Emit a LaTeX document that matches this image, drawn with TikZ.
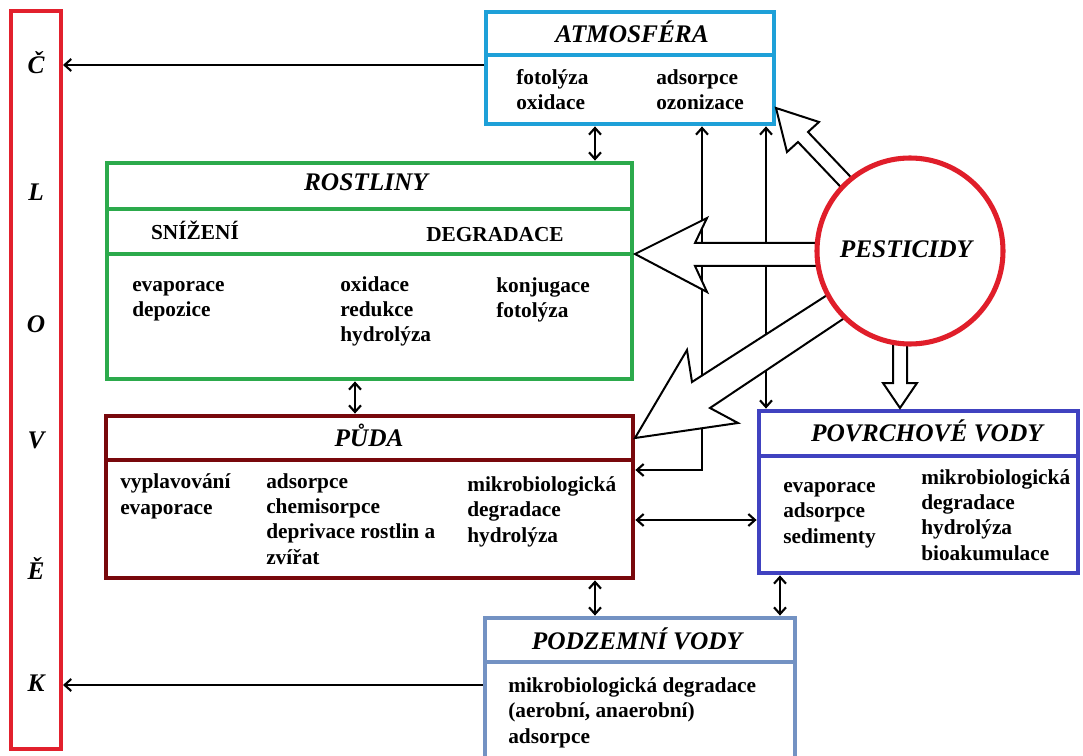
\documentclass[tikz,border=0pt]{standalone}
\usepackage{fontspec}
\setmainfont{Liberation Serif}
\usetikzlibrary{arrows.meta,fit}
\definecolor{clovekred}{RGB}{226,32,45}
\definecolor{atmblue}{RGB}{30,160,216}
\definecolor{rostgreen}{RGB}{44,170,76}
\definecolor{pudared}{RGB}{120,8,12}
\definecolor{povrblue}{RGB}{64,66,192}
\definecolor{podzblue}{RGB}{115,146,195}
\definecolor{pestred}{RGB}{224,30,42}
\tikzset{
  box/.style={draw=#1, line width=3.6pt, fill=white, inner sep=0pt},
  divider/.style={draw=#1, line width=3.4pt},
  ttl/.style={font=\fontsize{19}{22}\selectfont\bfseries\itshape, inner sep=0pt, anchor=base},
  hdr/.style={font=\fontsize{16}{19}\selectfont\bfseries, inner sep=0pt, anchor=base},
  body/.style={font=\fontsize{16}{18.8}\selectfont\bfseries, align=left, anchor=base west, inner sep=0pt},
  conn/.style={line width=1.6pt, -{Straight Barb[length=5pt,width=9pt]}},
  conn2/.style={line width=1.6pt, {Straight Barb[length=5pt,width=9pt]}-{Straight Barb[length=5pt,width=9pt]}},
  fat/.style={draw=black, line width=1.5pt, fill=white, line join=miter},
}
\begin{document}
\begin{tikzpicture}[x=0.75pt,y=-0.75pt]
\path[use as bounding box] (0,0) rectangle (1083,756);
\clip (0,0) rectangle (1083,756);
% helper coordinates
\coordinate (yC) at (0,65);
\coordinate (yK) at (0,685);
\coordinate (x595) at (595,0);
\coordinate (x355) at (355,0);
\coordinate (x702) at (702,0);
\coordinate (x766) at (766,0);
\coordinate (x780) at (780,0);
\coordinate (y470) at (0,470);
\coordinate (y520) at (0,520);
% boxes
\node[box=clovekred, line width=3pt, fit={(11,11) (61,749)}] (clovek) {};
\node[box=atmblue, fit={(486,12) (774,124)}] (atm) {};
\node[box=rostgreen, fit={(107,163) (632,379)}] (rost) {};
\node[box=pudared, fit={(106,416) (633,578)}] (puda) {};
\node[box=povrblue, fit={(759,411) (1078,573)}] (povr) {};
\node[box=podzblue, fit={(485,618) (795,768)}] (podz) {};
% dividers
\draw[divider=atmblue] (486,55) -- (774,55);
\draw[divider=rostgreen] (107,209) -- (632,209);
\draw[divider=rostgreen] (107,254) -- (632,254);
\draw[divider=pudared] (106,460) -- (633,460);
\draw[divider=povrblue] (759,456) -- (1078,456);
\draw[divider=podzblue] (485,662) -- (795,662);
% CLOVEK letters
\node[ttl] (c1) at (36,74) {Č};
\node[ttl] (c2) at (36,201) {L};
\node[ttl] (c3) at (36,333) {O};
\node[ttl] (c4) at (36,448) {V};
\node[ttl] (c5) at (36,579) {Ě};
\node[ttl] (c6) at (36,691) {K};
% titles
\node[ttl] (atmt) at (632,43) {ATMOSFÉRA};
\node[ttl] (rostt) at (366,191) {ROSTLINY};
\node[ttl] (pudat) at (369,446) {PŮDA};
\node[ttl] (povrt) at (927,441) {POVRCHOVÉ VODY};
\node[ttl] (podzt) at (637,649) {PODZEMNÍ VODY};
\node[hdr] (snizeni) at (195,240) {SNÍŽENÍ};
\node[hdr] (degr) at (495,242) {DEGRADACE};
% body texts (anchor = baseline of the last line)
\node[body] (atm1) at (516,110) {fotolýza\\oxidace};
\node[body] (atm2) at (656,110) {adsorpce\\ozonizace};
\node[body] (rost1) at (132,317) {evaporace\\depozice};
\node[body] (rost2) at (340,342) {oxidace\\redukce\\hydrolýza};
\node[body] (rost3) at (496,318) {konjugace\\fotolýza};
\node[body] (puda1) at (120,514) {vyplavování\\evaporace};
\node[body] (puda2) at (266,564) {adsorpce\\chemisorpce\\deprivace rostlin a\\zvířat};
\node[body] (puda3) at (467,542) {mikrobiologická\\degradace\\hydrolýza};
\node[body] (povr1) at (783,543) {evaporace\\adsorpce\\sedimenty};
\node[body] (povr2) at (921,560) {mikrobiologická\\degradace\\hydrolýza\\bioakumulace};
\node[body] (podz1) at (508,743) {mikrobiologická degradace\\(aerobní, anaerobní)\\adsorpce};
% connectors
\draw[conn] (atm.west |- yC) -- (clovek.east |- yC);
\draw[conn] (podz.west |- yK) -- (clovek.east |- yK);
\draw[conn2] (atm.south -| x595) -- (rost.north -| x595);
\draw[conn2] (rost.south -| x355) -- (puda.north -| x355);
\draw[conn2] (puda.south -| x595) -- (podz.north -| x595);
\draw[conn2] (povr.south -| x780) -- (podz.north -| x780);
\draw[conn2] (puda.east |- y520) -- (povr.west |- y520);
\draw[conn2] (atm.south -| x702) |- (puda.east |- y470);
\draw[conn2] (atm.south -| x766) -- (povr.north -| x766);
% fat arrows from PESTICIDY
\filldraw[fat] (865,192) -- (808,132) -- (819,122) -- (776,108) -- (787,152) -- (798,142) -- (855,202) -- cycle;
\filldraw[fat] (830,243) -- (695,243) -- (707,218) -- (635,254) -- (707,292) -- (695,266) -- (830,266) -- cycle;
\filldraw[fat] (835,290) -- (692,382) -- (687,350) -- (635,438) -- (738,423) -- (710,408) -- (855,311) -- cycle;
\filldraw[fat] (893,335) -- (893,383) -- (883,383) -- (900,408) -- (917,383) -- (907,383) -- (907,335) -- cycle;
% PESTICIDY circle
\node[circle, draw=pestred, line width=3.8pt, fill=white, minimum size=139.5pt, inner sep=0pt] (pest) at (910,251) {};
\node[ttl] (pestt) at (906,258) {PESTICIDY};
\end{tikzpicture}
\end{document}
